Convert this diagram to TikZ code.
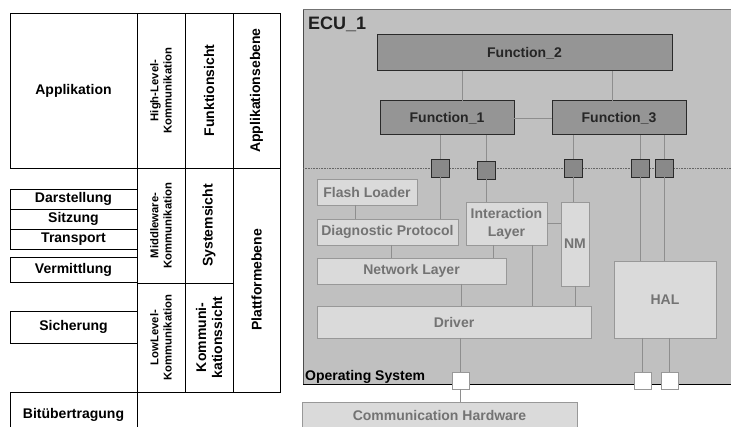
\documentclass[tikz,border=0pt]{standalone}
\usepackage{fontspec}
\setmainfont{Liberation Sans}
\definecolor{ecubg}{HTML}{C0C0C0}
\definecolor{funcfill}{HTML}{959595}
\definecolor{funcline}{HTML}{2A2A2A}
\definecolor{litefill}{HTML}{DADADA}
\definecolor{liteline}{HTML}{989898}
\definecolor{litetext}{HTML}{737373}
\definecolor{connline}{HTML}{8E8E8E}
\tikzset{
  cell/.style={draw=black, line width=0.9pt, inner sep=0pt, outer sep=0pt, anchor=north west,
    font=\bfseries\fontsize{14}{16}\selectfont, align=center},
  rcell/.style={draw=black, line width=0.9pt, inner sep=0pt, outer sep=0pt, rotate=90,
    font=\bfseries\fontsize{14}{16}\selectfont, align=center},
  smalltxt/.style={font=\bfseries\fontsize{11.3}{13.3}\selectfont},
  func/.style={draw=funcline, fill=funcfill, line width=1pt, inner sep=0pt, outer sep=0pt, anchor=north west,
    font=\bfseries\fontsize{14}{16}\selectfont, text=black!85},
  lite/.style={draw=liteline, fill=litefill, line width=0.8pt, inner sep=0pt, outer sep=0pt, anchor=north west,
    font=\bfseries\fontsize{14}{16}\selectfont, text=litetext, align=center},
  port/.style={draw=funcline, fill=funcfill!92!black, line width=0.9pt, inner sep=0pt, outer sep=0pt,
    anchor=north west, minimum width=18pt, minimum height=18pt},
  wport/.style={draw=liteline, fill=white, line width=0.8pt, inner sep=0pt, outer sep=0pt,
    anchor=north west, minimum width=17pt, minimum height=17pt},
  conn/.style={draw=connline, line width=0.9pt},
}
\begin{document}
\begin{tikzpicture}[x=1pt,y=-1pt]
\useasboundingbox (0,0) rectangle (731,427);
\clip (0,0) rectangle (731,427);
% ---------------- left table ----------------
\node[cell, minimum width=127pt, minimum height=155pt] (app) at (10,13) {Applikation};
\node[rcell, smalltxt, minimum width=155pt, minimum height=48pt] (hl) at (161,90.5) {High-Level-\\Kommunikation};
\node[rcell, minimum width=155pt, minimum height=48pt] (fs) at (209,90.5) {Funktionsicht};
\node[rcell, minimum width=155pt, minimum height=47pt] (ae) at (256.5,90.5) {Applikationsebene};
\node[cell, minimum width=127pt, minimum height=20pt] (dar) at (10,189) {Darstellung};
\node[cell, minimum width=127pt, minimum height=20pt] (sit) at (10,209) {Sitzung};
\node[cell, minimum width=127pt, minimum height=20pt] (tra) at (10,229) {Transport};
\node[cell, minimum width=127pt, minimum height=25pt] (ver) at (10,257) {Vermittlung};
\node[cell, minimum width=127pt, minimum height=32pt] (sic) at (10,311) {Sicherung};
\node[cell, minimum width=127pt, minimum height=46pt] (bit) at (10,392) {\raisebox{4pt}{Bitübertragung}};
\node[rcell, smalltxt, minimum width=115pt, minimum height=48pt] (mw) at (161,225.5) {Middleware-\\Kommunikation};
\node[rcell, minimum width=115pt, minimum height=48pt] (sys) at (209,225.5) {Systemsicht};
\node[rcell, smalltxt, minimum width=109pt, minimum height=48pt] (ll) at (161,337.5) {LowLevel-\\Kommunikation};
\node[rcell, minimum width=109pt, minimum height=48pt] (kom) at (209,337.5) {Kommuni-\\kationssicht};
\node[rcell, minimum width=224pt, minimum height=47pt] (pe) at (256.5,280) {Plattformebene};
% ---------------- ECU ----------------
\fill[ecubg] (303,10) rectangle (740,385);
\draw[draw=black!55, line width=1pt] (303,10) -- (740,10);
\draw[draw=black!70, line width=1pt] (303,10) -- (303,385);
\draw[draw=black, line width=1pt] (303,385) -- (740,385);
\draw[draw=black!60, line width=0.6pt, densely dotted] (303,168) -- (740,168);
\node[anchor=base west, inner sep=0pt, font=\bfseries\fontsize{18}{20}\selectfont, text=black!88] (ecu) at (308,30) {ECU\_1};
\node[anchor=base west, inner sep=0pt, font=\bfseries\fontsize{14}{16}\selectfont, text=black] (os) at (305,381) {Operating System};
% functions
\node[func, minimum width=295pt, minimum height=36pt] (f2) at (377,35) {Function\_2};
\node[func, minimum width=134pt, minimum height=34pt] (f1) at (380,101) {Function\_1};
\node[func, minimum width=134pt, minimum height=34pt] (f3) at (552,101) {Function\_3};
% ports
\node[port] (p1) at (431,159) {};
\node[port] (p2) at (477,161) {};
\node[port] (p3) at (564,159) {};
\node[port] (p4) at (631,159) {};
\node[port] (p5) at (655,159) {};
% inner boxes
\node[lite, minimum width=100pt, minimum height=26pt] (fl) at (317,179) {Flash Loader};
\node[lite, minimum width=141pt, minimum height=26pt] (dp) at (317,219) {Diagnostic Protocol};
\node[lite, minimum width=81pt, minimum height=43pt, font=\bfseries\fontsize{14}{18}\selectfont] (il) at (466,202) {Interaction\\Layer};
\node[lite, minimum width=28pt, minimum height=84pt] (nm) at (561,202) {NM};
\node[lite, minimum width=189pt, minimum height=26pt] (nl) at (317,258) {Network Layer};
\node[lite, minimum width=274pt, minimum height=32pt] (dr) at (317,306) {Driver};
\node[lite, minimum width=102pt, minimum height=77pt] (hal) at (614,261) {HAL};
% white ports
\node[wport] (w1) at (452,372) {};
\node[wport] (w2) at (634,372) {};
\node[wport] (w3) at (661,372) {};
% communication hardware
\node[lite, minimum width=275pt, minimum height=26pt] (ch) at (302,402) {Communication Hardware};
% x positions of connectors
\coordinate (xa) at (462,0);
\coordinate (xb) at (612,0);
\coordinate (xc) at (355,0);
\coordinate (xd) at (391,0);
\coordinate (xe) at (493,0);
\coordinate (xf) at (461,0);
\coordinate (xg) at (532,0);
% connectors
\draw[conn] (f2.south -| xa) -- (f1.north -| xa);
\draw[conn] (f2.south -| xb) -- (f3.north -| xb);
\draw[conn] (f1.east) -- (f3.west);
\draw[conn] (f1.south -| p1.north) -- (p1.north);
\draw[conn] (f1.south -| p2.north) -- (p2.north);
\draw[conn] (f3.south -| p3.north) -- (p3.north);
\draw[conn] (f3.south -| p4.north) -- (p4.north);
\draw[conn] (f3.south -| p5.north) -- (p5.north);
\draw[conn] (p1.south) -- (p1.south |- dp.north);
\draw[conn] (p2.south) -- (p2.south |- il.north);
\draw[conn] (p3.south) -- (p3.south |- nm.north);
\draw[conn] (p4.south) -- (p4.south |- hal.north);
\draw[conn] (p5.south) -- (p5.south |- hal.north);
\draw[conn] (fl.south -| xc) -- (dp.north -| xc);
\draw[conn] (il.east) -- (nm.west |- il.east);
\draw[conn] (dp.south -| xd) -- (nl.north -| xd);
\draw[conn] (il.south -| xe) -- (nl.north -| xe);
\draw[conn] (nl.south -| xf) -- (dr.north -| xf);
\draw[conn] (il.south -| xg) -- (dr.north -| xg);
\draw[conn] (nm.south) -- (nm.south |- dr.north);
\draw[conn] (dr.south -| w1.north) -- (w1.north);
\draw[conn] (hal.south -| w2.north) -- (w2.north);
\draw[conn] (hal.south -| w3.north) -- (w3.north);
\draw[conn] (w1.south) -- (w1.south |- ch.north);
\end{tikzpicture}
\end{document}
